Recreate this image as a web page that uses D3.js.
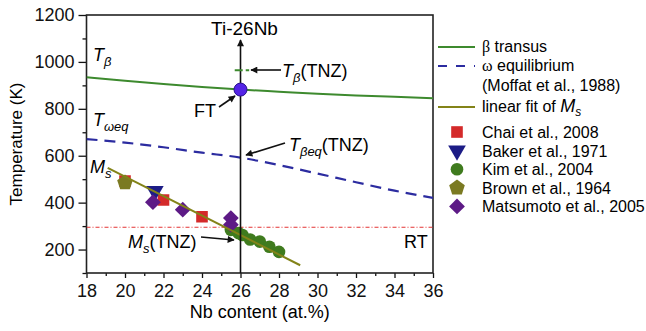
<!DOCTYPE html>
<html>
<head>
<meta charset="utf-8">
<style>
    body { margin: 0; background: #fff; }
    svg { display: block; font-family: "Liberation Sans", Arial, sans-serif; }
</style>
</head>
<body>
<script src="https://d3js.org/d3.v7.min.js"></script>
<script>
// values
const nbGrid = [18, 20, 22, 24, 26, 28, 30, 32, 34, 36];
const betaTransus = [935, 920, 906, 893, 882, 873, 864, 857, 851, 845];
const omegaEquil = [671, 656, 636, 613, 592, 560, 524, 487, 451, 420];
const fitNb = [19.1, 29.1];
const fitMs = [548, 133];
const chai = [[20, 492], [22, 411], [24, 340]];
const baker = [[21.55, 449]];
const kim = [[25.5, 284], [25.9, 270], [26.1, 262], [26.5, 243], [27, 234], [27.5, 212], [28, 190]];
const brown = [[20, 485]];
const matsumoto = [[21.45, 402], [23, 370], [25.5, 334], [25.5, 306]];
const roomTemp = 295;
const alloyNb = 26;
const ftTemp = 882;
const tnzBeta = 964;
const xTicks = [18, 20, 22, 24, 26, 28, 30, 32, 34, 36];
const yTicks = [200, 400, 600, 800, 1000, 1200];

const W = 646, H = 331;
const m = { left: 86.5, right: 433, top: 15, bottom: 273 };

const svg = d3.select("body").append("svg")
    .attr("width", W)
    .attr("height", H);

const x = d3.scaleLinear().domain([18, 36]).range([m.left, m.right]);
const y = d3.scaleLinear().domain([100, 1200]).range([m.bottom, m.top]);

const defs = svg.append("defs");
defs.append("marker")
    .attr("id", "arr")
    .attr("viewBox", "0 0 10 10")
    .attr("refX", 9).attr("refY", 5)
    .attr("markerWidth", 8).attr("markerHeight", 7)
    .attr("markerUnits", "userSpaceOnUse")
    .attr("orient", "auto")
    .append("path").attr("d", "M0,0 L10,5 L0,10 z").attr("fill", "#111");
defs.append("clipPath").attr("id", "clip")
    .append("rect").attr("x", m.left).attr("y", m.top)
    .attr("width", m.right - m.left).attr("height", m.bottom - m.top);

// pentagon symbol for Brown et al.
const pentagon = {
    draw(ctx, size) {
        const r = Math.sqrt(size / 2.38);
        for (let i = 0; i < 5; i++) {
            const a = -Math.PI / 2 + i * 2 * Math.PI / 5;
            i ? ctx.lineTo(r * Math.cos(a), r * Math.sin(a)) : ctx.moveTo(r * Math.cos(a), r * Math.sin(a));
        }
        ctx.closePath();
    }
};

const series = [
    { name: "Chai et al., 2008", data: chai, type: d3.symbolSquare, size: 135, rot: 0, color: "#d42a2a" },
    { name: "Baker et al., 1971", data: baker, type: d3.symbolTriangle, size: 135, rot: 180, color: "#1c1c86" },
    { name: "Kim et al., 2004", data: kim, type: d3.symbolCircle, size: 125, rot: 0, color: "#3f7b1e" },
    { name: "Brown et al., 1964", data: brown, type: pentagon, size: 160, rot: 0, color: "#7b7a22" },
    { name: "Matsumoto et al., 2005", data: matsumoto, type: d3.symbolSquare, size: 125, rot: 45, color: "#5d1a86" }
];

// axes
svg.append("g")
    .attr("transform", `translate(0,${m.bottom})`)
    .call(d3.axisBottom(x).tickValues(xTicks).tickFormat(d3.format("d")).tickSize(5).tickPadding(6));
svg.append("g")
    .attr("transform", `translate(0,${m.bottom})`)
    .call(d3.axisBottom(x).tickValues(d3.range(19, 36, 2)).tickFormat("").tickSize(3));
svg.append("g")
    .attr("transform", `translate(${m.left},0)`)
    .call(d3.axisLeft(y).tickValues(yTicks).tickFormat(d3.format("d")).tickSize(8).tickPadding(4));
svg.append("g")
    .attr("transform", `translate(${m.left},0)`)
    .call(d3.axisLeft(y).tickValues(d3.range(100, 1200, 200)).tickFormat("").tickSize(4));
svg.selectAll(".domain").attr("stroke", "none");
svg.selectAll(".tick line").attr("stroke", "#111").attr("stroke-width", 1.3);
svg.selectAll(".tick text").attr("font-size", 18).attr("fill", "#111")
    .attr("font-family", "'Liberation Sans', Arial, sans-serif");

svg.append("rect")
    .attr("x", m.left).attr("y", m.top)
    .attr("width", m.right - m.left).attr("height", m.bottom - m.top)
    .attr("fill", "none").attr("stroke", "#222").attr("stroke-width", 1.6);

svg.append("text")
    .attr("x", (m.left + m.right) / 2).attr("y", 318)
    .attr("text-anchor", "middle").attr("font-size", 18)
    .text("Nb content (at.%)");
svg.append("text")
    .attr("transform", `translate(22,${(m.top + m.bottom) / 2}) rotate(-90)`)
    .attr("text-anchor", "middle").attr("font-size", 17)
    .text("Temperature (K)");

const plot = svg.append("g").attr("clip-path", "url(#clip)");
const line = d3.line().x(d => x(d[0])).y(d => y(d[1])).curve(d3.curveMonotoneX);

// room temperature
plot.append("line")
    .attr("x1", m.left).attr("x2", m.right)
    .attr("y1", y(roomTemp)).attr("y2", y(roomTemp))
    .attr("stroke", "#e43434").attr("stroke-width", 1.2)
    .attr("stroke-dasharray", "4,2,1,2");

plot.append("path")
    .attr("d", line(nbGrid.map((n, i) => [n, betaTransus[i]])))
    .attr("fill", "none").attr("stroke", "#3d8a2e").attr("stroke-width", 2);
plot.append("path")
    .attr("d", line(nbGrid.map((n, i) => [n, omegaEquil[i]])))
    .attr("fill", "none").attr("stroke", "#2c2ca0").attr("stroke-width", 2.2)
    .attr("stroke-dasharray", "11,7");

// Ti-26Nb vertical line
svg.append("line")
    .attr("x1", x(alloyNb)).attr("x2", x(alloyNb))
    .attr("y1", m.bottom).attr("y2", 40)
    .attr("stroke", "#111").attr("stroke-width", 1.6)
    .attr("marker-end", "url(#arr)");
svg.append("text")
    .attr("x", x(alloyNb) + 4).attr("y", 35)
    .attr("text-anchor", "middle").attr("font-size", 19)
    .text("Ti-26Nb");

// markers
series.forEach(s => {
    plot.selectAll(null)
        .data(s.data)
        .enter()
        .append("path")
        .attr("d", d3.symbol().type(s.type).size(s.size))
        .attr("transform", d => `translate(${x(d[0])},${y(d[1])}) rotate(${s.rot})`)
        .attr("fill", s.color);
});

// linear fit of Ms
plot.append("path")
    .attr("d", d3.line().x(d => x(d[0])).y(d => y(d[1]))(fitNb.map((n, i) => [n, fitMs[i]])))
    .attr("stroke", "#838318").attr("stroke-width", 2).attr("fill", "none");

// T_beta(TNZ) short dash and FT point
svg.append("line")
    .attr("x1", x(alloyNb - 0.3)).attr("x2", x(alloyNb + 0.45))
    .attr("y1", y(tnzBeta)).attr("y2", y(tnzBeta))
    .attr("stroke", "#3d8a2e").attr("stroke-width", 2).attr("stroke-dasharray", "8,3");
svg.append("circle")
    .attr("cx", x(alloyNb)).attr("cy", y(ftTemp)).attr("r", 6.5)
    .attr("fill", "#5424e6").attr("stroke", "#2a1290").attr("stroke-width", 1);

// annotation arrows
const arrows = [
    [281, 70, 251, 70],
    [219, 107, 235, 96],
    [285, 143, 246, 155],
    [201, 237, 234, 240]
];
svg.selectAll(".ann")
    .data(arrows)
    .enter()
    .append("line")
    .attr("x1", d => d[0]).attr("y1", d => d[1])
    .attr("x2", d => d[2]).attr("y2", d => d[3])
    .attr("stroke", "#111").attr("stroke-width", 1.6)
    .attr("marker-end", "url(#arr)");

function label(xp, yp, main, sub, rest, size) {
    const t = svg.append("text").attr("x", xp).attr("y", yp).attr("font-size", size || 18);
    t.append("tspan").attr("font-style", "italic").text(main);
    t.append("tspan").attr("font-style", "italic").attr("font-size", (size || 18) * 0.72)
        .attr("dy", 5).text(sub);
    if (rest) t.append("tspan").attr("dy", -5).text(rest);
    return t;
}
label(93, 61, "T", "β");
label(93, 126, "T", "ωeq");
label(90, 173, "M", "s");
label(282, 77, "T", "β", "(TNZ)");
label(289, 151, "T", "βeq", "(TNZ)");
label(128, 248, "M", "s", "(TNZ)");
svg.append("text").attr("x", 194).attr("y", 117).attr("font-size", 18).text("FT");
svg.append("text").attr("x", 404).attr("y", 248).attr("font-size", 18).text("RT");

// legend
const lg = svg.append("g").attr("font-size", 16);
const lx0 = 438, lx1 = 475, tx = 482;
lg.append("line").attr("x1", lx0).attr("x2", lx1).attr("y1", 47).attr("y2", 47)
    .attr("stroke", "#3d8a2e").attr("stroke-width", 2);
lg.append("line").attr("x1", lx0).attr("x2", lx1).attr("y1", 66).attr("y2", 66)
    .attr("stroke", "#2c2ca0").attr("stroke-width", 2.2).attr("stroke-dasharray", "9,9");
lg.append("line").attr("x1", lx0).attr("x2", lx1).attr("y1", 107).attr("y2", 107)
    .attr("stroke", "#838318").attr("stroke-width", 2);

const t1 = lg.append("text").attr("x", tx).attr("y", 52);
t1.append("tspan").attr("font-family", "'Liberation Serif', serif").text("β");
t1.append("tspan").text(" transus");
const t2 = lg.append("text").attr("x", tx).attr("y", 71);
t2.append("tspan").attr("font-family", "'Liberation Serif', serif").text("ω");
t2.append("tspan").text(" equilibrium");
lg.append("text").attr("x", tx).attr("y", 91).text("(Moffat et al., 1988)");
const t3 = lg.append("text").attr("x", tx).attr("y", 112);
t3.append("tspan").text("linear fit of ");
t3.append("tspan").attr("font-style", "italic").attr("font-size", 18).text("M");
t3.append("tspan").attr("font-style", "italic").attr("font-size", 12).attr("dy", 4).text("s");

series.forEach((s, i) => {
    const ly = 132 + i * 18.6;
    lg.append("path")
        .attr("d", d3.symbol().type(s.type).size(s.size))
        .attr("transform", `translate(457,${ly}) rotate(${s.rot})`)
        .attr("fill", s.color);
    lg.append("text").attr("x", tx).attr("y", ly + 6).text(s.name);
});
</script>
</body>
</html>
